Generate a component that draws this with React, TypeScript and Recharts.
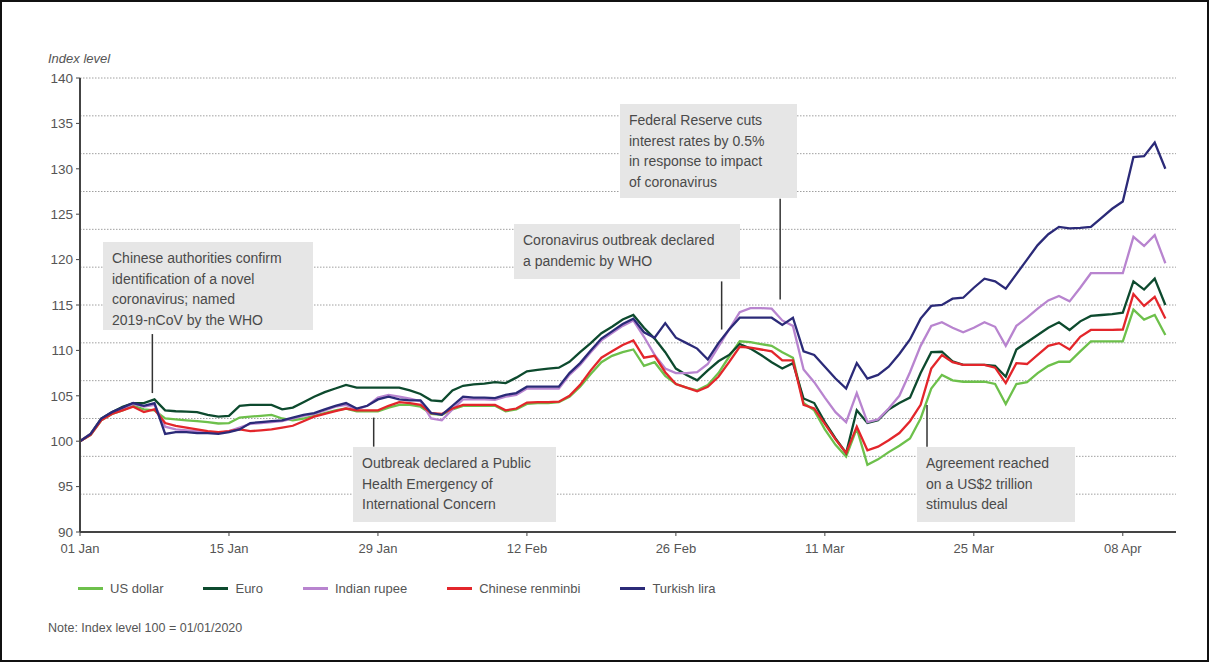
import React from "react";
import { LineChart, Line, XAxis, YAxis, CartesianGrid, ReferenceLine } from "recharts";

// day 0 = 01 Jan 2020, one value per calendar day up to 12 Apr
const tickDays = [0, 14, 28, 42, 56, 70, 84, 98];
const tickLabels = ["01 Jan", "15 Jan", "29 Jan", "12 Feb", "26 Feb", "11 Mar", "25 Mar", "08 Apr"];
const yTicks = [90, 95, 100, 105, 110, 115, 120, 125, 130, 135, 140];
// the dotted grid in the source has 12 even bands, not one per y tick
const gridBands = 12;

const usDollar = [
  100.0, 100.7, 102.3, 103.0, 103.4, 103.9, 103.5, 103.4, 102.5, 102.4,
  102.3, 102.2, 102.1, 101.95, 102.0, 102.6, 102.7, 102.8, 102.9, 102.5,
  102.3, 102.5, 102.8, 103.1, 103.4, 103.6, 103.3, 103.3, 103.3, 103.7,
  104.0, 104.0, 103.8, 103.0, 102.9, 103.5, 103.9, 103.9, 103.9, 103.9,
  103.3, 103.5, 104.1, 104.2, 104.2, 104.3, 104.9, 106.0, 107.4, 108.7,
  109.4, 109.8, 110.1, 108.3, 108.7, 107.2, 106.3, 105.9, 105.6, 106.2,
  107.5, 109.3, 111.0, 110.9, 110.7, 110.5, 109.8, 109.2, 104.2, 103.4,
  101.3, 99.6, 98.3, 101.4, 97.4, 98.0, 98.8, 99.5, 100.3, 102.5,
  105.8, 107.3, 106.7, 106.55, 106.55, 106.55, 106.3, 104.1, 106.3, 106.5,
  107.5, 108.3, 108.75, 108.75, 109.9, 111.0, 111.0, 111.0, 111.0, 114.5,
  113.4, 113.9, 111.7,
];

const euro = [
  100.0, 100.8, 102.5, 103.2, 103.8, 104.2, 104.2, 104.6, 103.4, 103.3,
  103.25, 103.2, 102.9, 102.7, 102.8, 103.9, 104.0, 104.0, 104.0, 103.5,
  103.7, 104.3, 104.9, 105.4, 105.8, 106.2, 105.9, 105.9, 105.9, 105.9,
  105.9, 105.6, 105.2, 104.5, 104.4, 105.6, 106.1, 106.25, 106.35, 106.5,
  106.4, 107.0, 107.7, 107.85, 108.0, 108.1, 108.75, 109.8, 110.8, 111.9,
  112.6, 113.4, 113.9, 112.5, 111.3, 109.8, 108.0, 107.3, 106.7, 107.8,
  108.8, 109.5, 110.7, 110.2, 109.5, 108.7, 108.0, 108.6, 104.7, 104.2,
  102.1, 100.3, 98.7, 103.4, 102.0, 102.3, 103.5, 104.2, 104.8, 107.5,
  109.8, 109.85, 108.8, 108.4, 108.4, 108.4, 108.3, 107.1, 110.1, 110.9,
  111.7, 112.5, 113.1, 112.25, 113.2, 113.8, 113.9, 114.0, 114.15, 117.6,
  116.7, 117.9, 115.0,
];

const indianRupee = [
  100.0, 100.8, 102.4, 103.1, 103.6, 104.1, 103.8, 104.0, 101.6, 101.3,
  101.2, 101.1, 101.0, 100.9, 101.1, 101.5, 101.9, 102.0, 102.1, 102.2,
  102.5, 102.8, 103.0, 103.4, 103.8, 104.0, 103.5, 103.9, 104.8, 105.1,
  104.9, 104.7, 104.4, 102.5, 102.3, 103.5, 104.6, 104.6, 104.6, 104.55,
  104.9, 105.1, 105.8, 105.8, 105.8, 105.8, 107.3, 108.4, 109.8, 111.1,
  111.9, 112.7, 113.3, 111.5, 109.5, 108.0, 107.5, 107.5, 107.6, 108.5,
  110.4, 112.3, 114.2, 114.65, 114.65, 114.6, 113.3, 112.7, 107.9, 106.5,
  104.8, 103.2, 102.1, 105.3, 102.1, 102.4, 103.6, 105.0, 107.6, 110.5,
  112.7, 113.1, 112.5, 112.0, 112.5, 113.1, 112.6, 110.5, 112.7, 113.6,
  114.6, 115.5, 116.0, 115.4, 116.9, 118.5, 118.5, 118.5, 118.5, 122.5,
  121.5, 122.7, 119.6,
];

const chineseRenminbi = [
  100.0, 100.7, 102.3, 103.0, 103.4, 103.8, 103.2, 103.5, 102.0, 101.7,
  101.5, 101.3, 101.1, 101.0, 101.1, 101.3, 101.1, 101.2, 101.3, 101.5,
  101.7, 102.2, 102.7, 103.0, 103.3, 103.6, 103.4, 103.4, 103.4, 103.9,
  104.3, 104.2, 104.0, 103.1, 103.0, 103.6, 104.0, 104.0, 104.0, 104.0,
  103.4, 103.6, 104.25, 104.3, 104.3, 104.35, 105.0, 106.2, 107.8, 109.2,
  109.9, 110.6, 111.1, 109.2, 109.4, 107.6, 106.3, 105.9, 105.5, 106.0,
  107.1, 108.7, 110.4, 110.3, 110.1, 109.9, 108.9, 108.9, 104.0, 103.6,
  101.9, 100.2, 98.7, 101.6, 99.0, 99.4, 100.1, 100.9, 102.2, 104.0,
  108.0, 109.5, 108.7, 108.4, 108.4, 108.4, 108.1, 106.4, 108.6, 108.5,
  109.5, 110.5, 110.8, 110.1, 111.5, 112.25, 112.25, 112.25, 112.3, 116.2,
  114.9, 115.9, 113.5,
];

const turkishLira = [
  100.0, 100.8, 102.5, 103.2, 103.7, 104.2, 103.9, 104.2, 100.8, 101.0,
  101.0, 100.9, 100.9, 100.8, 101.0, 101.3, 102.0, 102.1, 102.2, 102.3,
  102.6, 102.9, 103.1, 103.5, 103.9, 104.2, 103.6, 103.9, 104.6, 104.9,
  104.6, 104.5, 104.5, 103.1, 102.9, 103.9, 104.9, 104.8, 104.8, 104.75,
  105.1, 105.3, 106.0, 106.0, 106.0, 106.0, 107.5, 108.6, 110.0, 111.3,
  112.1, 112.9, 113.5, 112.0, 111.4, 113.0, 111.4, 110.8, 110.2, 109.0,
  110.8, 112.3, 113.6, 113.6, 113.6, 113.6, 112.8, 113.6, 109.9, 109.5,
  108.2, 106.9, 105.8, 108.6, 106.9, 107.3, 108.2, 109.6, 111.2, 113.5,
  114.9, 115.0, 115.7, 115.8, 116.9, 117.9, 117.6, 116.8, 118.4, 120.0,
  121.6, 122.8, 123.6, 123.45, 123.5, 123.6, 124.6, 125.6, 126.4, 131.3,
  131.4, 132.9, 130.0,
];

const days = usDollar.map((_, i) => i);

const data = days.map((d, i) => ({
  day: d,
  usd: usDollar[i],
  eur: euro[i],
  inr: indianRupee[i],
  cny: chineseRenminbi[i],
  tryl: turkishLira[i],
}));

const series = [
  { key: "usd", name: "US dollar", color: "#6dc04b" },
  { key: "eur", name: "Euro", color: "#0d4a2e" },
  { key: "inr", name: "Indian rupee", color: "#b884cf" },
  { key: "cny", name: "Chinese renminbi", color: "#e3262b" },
  { key: "tryl", name: "Turkish lira", color: "#2b2a78" },
];

const notes = [
  {
    lines: ["Chinese authorities confirm", "identification of a novel", "coronavirus; named", "2019-nCoV by the WHO"],
    box: { left: 103, top: 242, width: 210, height: 88 },
    pointer: { day: 6.8, from: 105.3, to: 111.8 },
  },
  {
    lines: ["Outbreak declared a Public", "Health Emergency of", "International Concern"],
    box: { left: 353, top: 447, width: 203, height: 75 },
    pointer: { day: 27.6, from: 102.6, to: 99.4 },
  },
  {
    lines: ["Coronavirus outbreak declared", "a pandemic by WHO"],
    box: { left: 514, top: 224, width: 226, height: 55 },
    pointer: { day: 60.3, from: 112.3, to: 117.6 },
  },
  {
    lines: ["Federal Reserve cuts", "interest rates by 0.5%", "in response to impact", "of coronavirus"],
    box: { left: 620, top: 104, width: 177, height: 94 },
    pointer: { day: 65.8, from: 115.6, to: 126.7 },
  },
  {
    lines: ["Agreement reached", "on a US$2 trillion", "stimulus deal"],
    box: { left: 917, top: 447, width: 158, height: 75 },
    pointer: { day: 79.6, from: 104.0, to: 99.4 },
  },
];

const font = "'Liberation Sans', Arial, sans-serif";
const textGrey = "#555";

const gridRows = ({ offset }: any) => {
  const rows: number[] = [];
  for (let i = 0; i < gridBands; i++) rows.push(offset.top + (offset.height * i) / gridBands);
  return rows;
};

export default function App() {
  return (
    <div
      style={{
        position: "absolute",
        left: 0,
        top: 0,
        width: 1209,
        height: 662,
        boxSizing: "border-box",
        border: "2px solid #111",
        background: "#fff",
        fontFamily: font,
        overflow: "hidden",
      }}
    >
      <LineChart
        width={1209}
        height={662}
        data={data}
        margin={{ top: 78, right: 33, bottom: 100, left: 40 }}
        style={{ position: "absolute", left: -2, top: -2 }}
      >
        <CartesianGrid
          vertical={false}
          horizontalCoordinatesGenerator={gridRows}
          stroke="#a0a0a0"
          strokeDasharray="1.5 1.5"
        />
        <XAxis
          dataKey="day"
          type="number"
          domain={[0, 103]}
          ticks={tickDays}
          tickFormatter={(v) => tickLabels[tickDays.indexOf(v)]}
          height={30}
          tick={{ fill: textGrey, fontSize: 13, fontFamily: font }}
          tickSize={4}
          tickMargin={8}
          axisLine={{ stroke: "#444", strokeWidth: 2 }}
          tickLine={{ stroke: "#444" }}
        />
        <YAxis
          domain={[90, 140]}
          ticks={yTicks}
          width={40}
          tick={{ fill: textGrey, fontSize: 13.5, fontFamily: font }}
          tickSize={4}
          tickMargin={3}
          axisLine={{ stroke: "#444", strokeWidth: 2 }}
          tickLine={{ stroke: "#444" }}
        />
        {series.map((s) => (
          <Line
            key={s.key}
            type="linear"
            dataKey={s.key}
            name={s.name}
            stroke={s.color}
            strokeWidth={2.3}
            dot={false}
            isAnimationActive={false}
          />
        ))}
        {notes.map((n, i) => (
          <ReferenceLine
            key={i}
            segment={[
              { x: n.pointer.day, y: n.pointer.from },
              { x: n.pointer.day, y: n.pointer.to },
            ]}
            stroke="#333"
            strokeWidth={1.5}
            ifOverflow="visible"
          />
        ))}
      </LineChart>

      <div
        style={{
          position: "absolute",
          left: 46,
          top: 49,
          fontSize: 13,
          fontStyle: "italic",
          color: textGrey,
        }}
      >
        Index level
      </div>

      {notes.map((n, i) => (
        <div
          key={i}
          style={{
            position: "absolute",
            left: n.box.left - 2,
            top: n.box.top - 2,
            width: n.box.width,
            height: n.box.height,
            background: "#e6e6e6",
            boxSizing: "border-box",
            padding: "6px 9px",
            fontSize: 14,
            lineHeight: "20.5px",
            color: "#4a4a4a",
          }}
        >
          {n.lines.map((l, j) => (
            <div key={j} style={{ whiteSpace: "nowrap" }}>
              {l}
            </div>
          ))}
        </div>
      ))}

      <div
        style={{
          position: "absolute",
          left: 76,
          top: 579,
          display: "flex",
          alignItems: "center",
          gap: 40,
          fontSize: 13,
          color: textGrey,
        }}
      >
        {series.map((s) => (
          <div key={s.key} style={{ display: "flex", alignItems: "center" }}>
            <span style={{ display: "inline-block", width: 25, height: 3, background: s.color, marginRight: 7 }} />
            <span>{s.name}</span>
          </div>
        ))}
      </div>

      <div style={{ position: "absolute", left: 46, top: 619, fontSize: 12.5, color: textGrey }}>
        Note: Index level 100 = 01/01/2020
      </div>
    </div>
  );
}
